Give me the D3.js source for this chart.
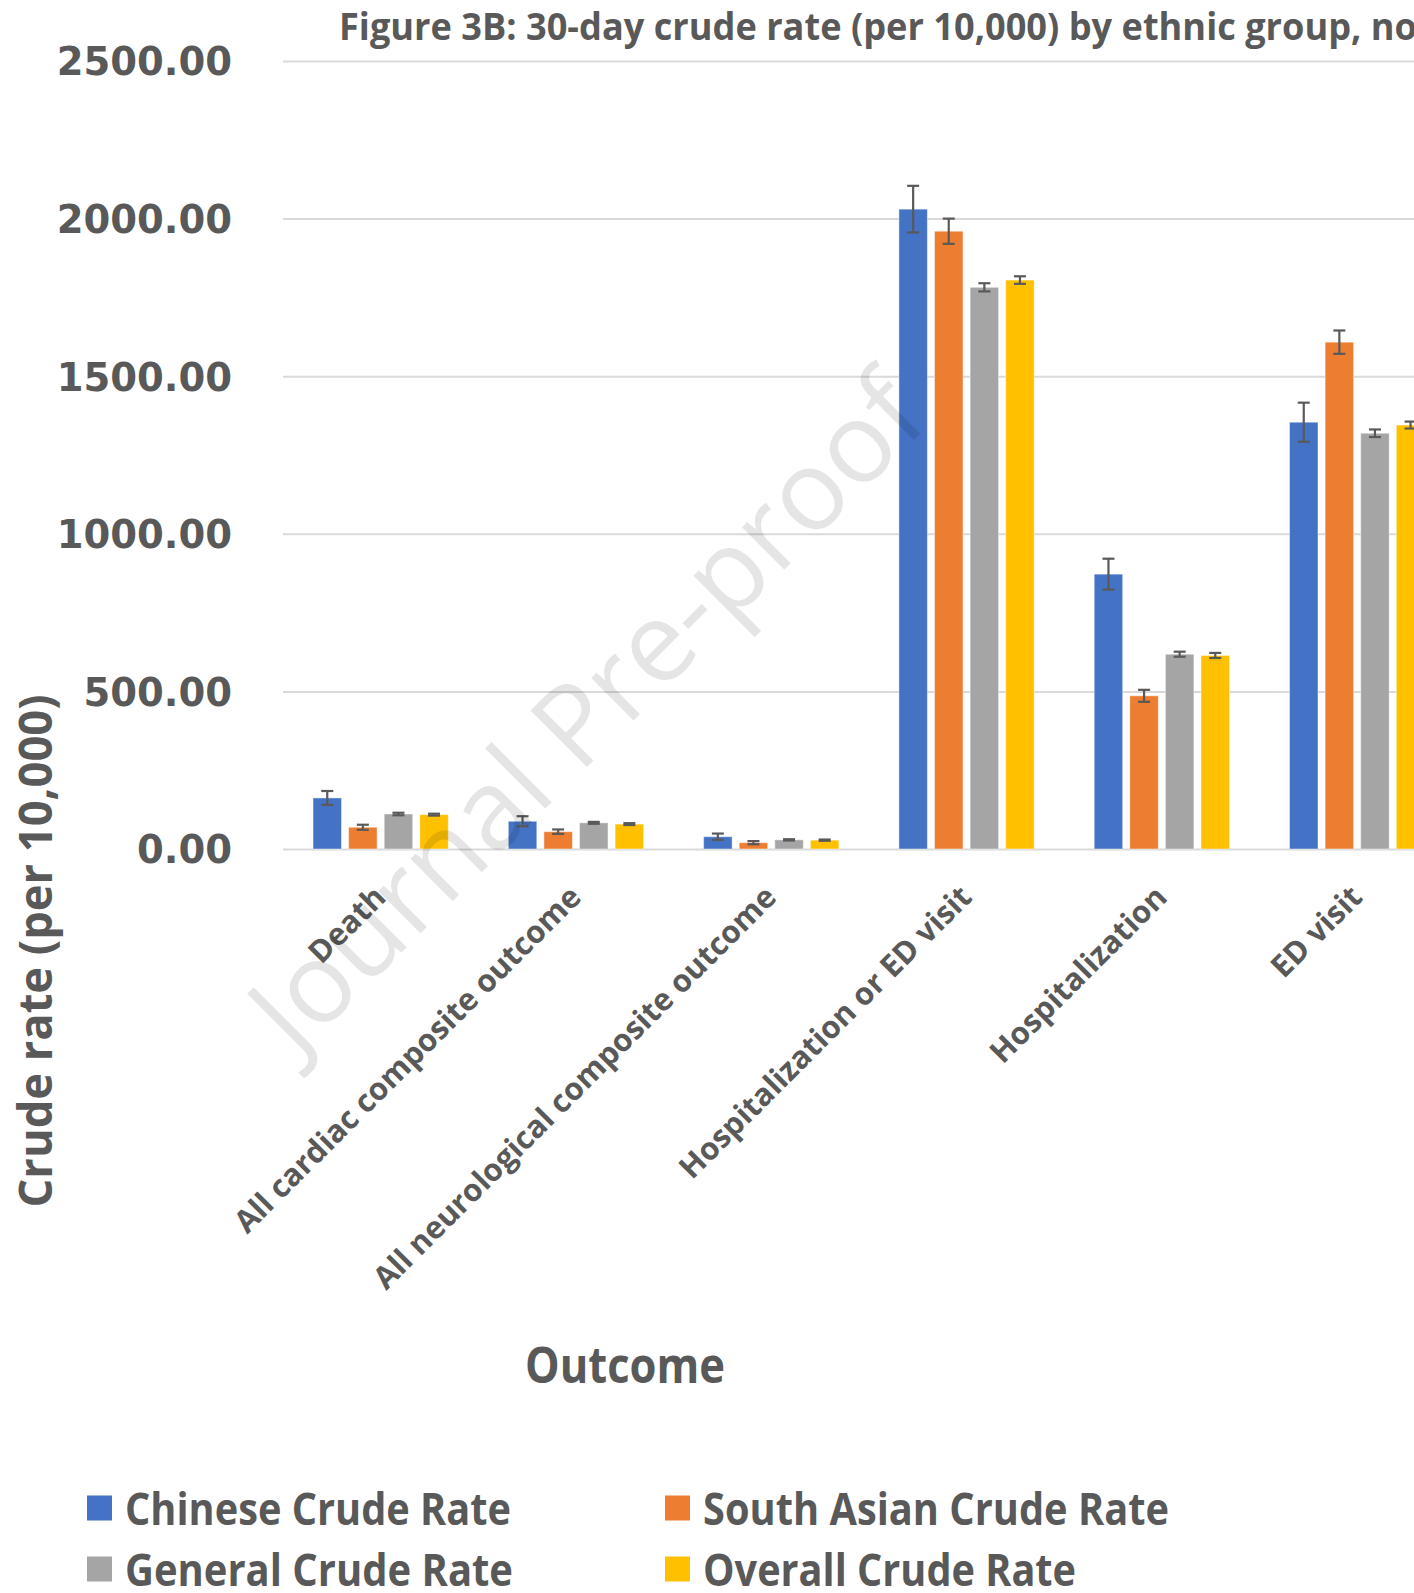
<!DOCTYPE html>
<html>
<head>
<meta charset="utf-8">
<script src="https://cdn.jsdelivr.net/npm/d3@7/dist/d3.min.js"></script>
<style>
  html, body { margin: 0; padding: 0; background: #ffffff; overflow: hidden; }
  svg { display: block; }
</style>
</head>
<body>
<svg id="chart" width="1414" height="1593"></svg>
<script>
// Outcome categories along the x axis
const categories = [
  "Death",
  "All cardiac composite outcome",
  "All neurological composite outcome",
  "Hospitalization or ED visit",
  "Hospitalization",
  "ED visit"
];

// Series names (legend order)
const seriesNames = [
  "Chinese Crude Rate",
  "South Asian Crude Rate",
  "General Crude Rate",
  "Overall Crude Rate"
];

// 30-day crude rates per 10,000
const chineseRate    = [162, 88, 39, 2030, 872, 1354];
const southAsianRate = [69, 55, 20, 1960, 486, 1608];
const generalRate    = [111, 83, 29, 1782, 618, 1319];
const overallRate    = [109, 79, 28, 1805, 614, 1345];

// Half-width of the 95% confidence interval for each rate
const chineseErr    = [22, 16, 10, 74, 49, 62];
const southAsianErr = [8, 7, 5, 40, 19, 37];
const generalErr    = [4, 3, 2, 13, 8, 12];
const overallErr    = [3, 3, 2, 12, 8, 11];

// Y axis ticks
const yTicks = [0, 500, 1000, 1500, 2000, 2500];

const seriesColors = ["#4472C4", "#ED7D31", "#A5A5A5", "#FFC000"];

const rates = [chineseRate, southAsianRate, generalRate, overallRate];
const errs = [chineseErr, southAsianErr, generalErr, overallErr];

const svg = d3.select("#chart");
const textColor = "#595959";

// Plot geometry
const plotLeft = 283;
const catStep = 195.3;
const yTop = 61, yBottom = 849;

const x = d3.scaleBand()
  .domain(categories)
  .range([plotLeft, plotLeft + catStep * categories.length])
  .paddingInner(0).paddingOuter(0);

const groupWidth = 142.4;
const groupOffset = (x.bandwidth() - groupWidth) / 2;
const xs = d3.scaleBand()
  .domain(seriesNames)
  .range([groupOffset, groupOffset + groupWidth])
  .paddingInner(0.2).paddingOuter(0.1);

const y = d3.scaleLinear().domain([0, 2500]).range([yBottom, yTop]);

// Gridlines and value labels
const yAxis = d3.axisLeft(y)
  .tickValues(yTicks)
  .tickSize(-(1414 - plotLeft))
  .tickFormat(d3.format(".2f"));

const gAxis = svg.append("g")
  .attr("transform", `translate(${plotLeft},0)`)
  .call(yAxis);
gAxis.select(".domain").remove();
gAxis.selectAll(".tick line")
  .attr("stroke", "#D9D9D9")
  .attr("stroke-width", 2);
gAxis.selectAll(".tick text")
  .attr("x", -51)
  .attr("dy", "0.36em")
  .attr("fill", textColor)
  .style("font-family", "'DejaVu Sans', Verdana, sans-serif")
  .style("font-weight", "bold")
  .style("font-size", "38.5px");

// Flatten to bar records
const records = [];
categories.forEach((c, i) => {
  seriesNames.forEach((s, j) => {
    records.push({ cat: c, series: s, value: rates[j][i], err: errs[j][i], color: seriesColors[j] });
  });
});

// Bars
svg.append("g").selectAll("rect")
  .data(records)
  .join("rect")
  .attr("x", d => x(d.cat) + xs(d.series))
  .attr("y", d => y(d.value))
  .attr("width", xs.bandwidth())
  .attr("height", d => y(0) - y(d.value))
  .attr("fill", d => d.color)
  .attr("stroke", "rgba(255,255,255,0.45)")
  .attr("stroke-width", 1);

// Error bars
const capHalf = 6;
const eb = svg.append("g")
  .attr("stroke", "#595959")
  .attr("stroke-width", 2.2)
  .attr("fill", "none");
records.forEach(d => {
  const cx = x(d.cat) + xs(d.series) + xs.bandwidth() / 2;
  const y1 = y(d.value + d.err), y2 = y(d.value - d.err);
  eb.append("line").attr("x1", cx).attr("x2", cx).attr("y1", y1).attr("y2", y2);
  eb.append("line").attr("x1", cx - capHalf).attr("x2", cx + capHalf).attr("y1", y1).attr("y2", y1);
  eb.append("line").attr("x1", cx - capHalf).attr("x2", cx + capHalf).attr("y1", y2).attr("y2", y2);
});

// Category labels, rotated
svg.append("g").selectAll("text")
  .data(categories)
  .join("text")
  .attr("transform", d => `translate(${x(d) + x.bandwidth() / 2 + 7},899) rotate(-45)`)
  .attr("text-anchor", "end")
  .attr("fill", textColor)
  .style("font-family", "'Open Sans', sans-serif")
  .style("font-weight", "bold")
  .style("font-size", "31px")
  .text(d => d);

// Title
svg.append("text")
  .attr("x", 339)
  .attr("y", 40)
  .attr("fill", textColor)
  .attr("textLength", 1078)
  .attr("lengthAdjust", "spacingAndGlyphs")
  .style("font-family", "'Open Sans', sans-serif")
  .style("font-weight", "bold")
  .style("font-size", "37px")
  .text("Figure 3B: 30-day crude rate (per 10,000) by ethnic group, no");

// Axis titles
svg.append("text")
  .attr("x", 625)
  .attr("y", 1383)
  .attr("text-anchor", "middle")
  .attr("fill", textColor)
  .attr("textLength", 200)
  .attr("lengthAdjust", "spacingAndGlyphs")
  .style("font-family", "'Open Sans', sans-serif")
  .style("font-weight", "bold")
  .style("font-size", "50px")
  .text("Outcome");

svg.append("text")
  .attr("transform", "translate(52,951) rotate(-90)")
  .attr("text-anchor", "middle")
  .attr("fill", textColor)
  .attr("textLength", 513)
  .attr("lengthAdjust", "spacingAndGlyphs")
  .style("font-family", "'Open Sans', sans-serif")
  .style("font-weight", "bold")
  .style("font-size", "46px")
  .text("Crude rate (per 10,000)");

// Legend
const legendPos = [
  { sx: 87, tx: 125, cy: 1508, w: 386 },
  { sx: 665, tx: 703, cy: 1508, w: 466 },
  { sx: 87, tx: 125, cy: 1569, w: 388 },
  { sx: 665, tx: 703, cy: 1569, w: 373 }
];
const lg = svg.append("g");
seriesNames.forEach((s, i) => {
  const p = legendPos[i];
  lg.append("rect")
    .attr("x", p.sx).attr("y", p.cy - 12.5)
    .attr("width", 25).attr("height", 25)
    .attr("fill", seriesColors[i]);
  lg.append("text")
    .attr("x", p.tx).attr("y", p.cy + 17)
    .attr("fill", textColor)
    .attr("textLength", p.w)
    .attr("lengthAdjust", "spacingAndGlyphs")
    .style("font-family", "'Open Sans', sans-serif")
    .style("font-weight", "bold")
    .style("font-size", "45px")
    .text(s);
});

// Watermark overlay
svg.append("text")
  .attr("transform", "translate(614,740) rotate(-45)")
  .attr("text-anchor", "middle")
  .attr("fill", "#000000")
  .attr("fill-opacity", 0.1)
  .style("font-family", "'Open Sans', sans-serif")
  .style("font-size", "112px")
  .text("Journal Pre-proof");
</script>
</body>
</html>
